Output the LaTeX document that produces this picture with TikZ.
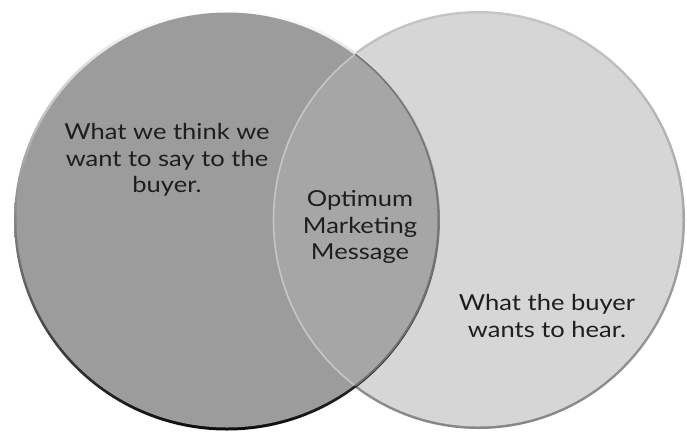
\documentclass[tikz,border=0pt]{standalone}
\usepackage{fontspec}
\setmainfont{Lato}

\definecolor{sayfill}{HTML}{9C9C9C}
\definecolor{hearfill}{HTML}{D6D6D6}
\definecolor{lensfill}{HTML}{A6A6A6}
\definecolor{textgray}{HTML}{1E1E1E}

\begin{document}
\begin{tikzpicture}[
  x = 1pt, y = -1pt,
  venntext/.style = {align = center, text = textgray, inner sep = 0pt,
    xscale = 1.16, transform shape,
    font = \fontsize{22}{26.5}\selectfont}
  ]
  \useasboundingbox (0,0) rectangle (687,432);

  % Circles
  \coordinate (C_S) at (227  , 220);  % what we say
  \coordinate (C_H) at (478.5, 220);  % what the buyer hears

  % right circle, rim darker to the bottom
  \shade [top color = gray!45, bottom color = gray!95]
    (C_H) ellipse [x radius = 206.5, y radius = 209];
  \fill [hearfill] (C_H) ellipse [x radius = 204, y radius = 206.5];

  % left circle, bevel: light on top, dark at the bottom
  \shade [top color = white, middle color = gray!80, bottom color = black!95]
    (C_S) ellipse [x radius = 213, y radius = 210.5];
  \fill [sayfill] (C_S) ellipse [x radius = 210.5, y radius = 207.5];

  % overlap
  \begin{scope}
    \clip (C_S) ellipse [x radius = 210.5, y radius = 207.5];
    \fill [lensfill] (C_H) ellipse [x radius = 205, y radius = 207.5];
    \draw [line width = 1.6pt, gray!45] (C_H) ellipse [x radius = 205, y radius = 207.5];
  \end{scope}
  \begin{scope}
    \clip (C_H) ellipse [x radius = 205, y radius = 207.5];
    \draw [line width = 1.6pt, black!55] (C_S) ellipse [x radius = 211.5, y radius = 208.5];
  \end{scope}

  % Nodes
  \node at (167, 160) [venntext, name = say]   {What we think we\\want to say to the\\buyer.};
  \node at (360, 227) [venntext, name = opt]   {Optimum\\Marketing\\Message};
  \node at (547, 316) [venntext, name = hear]  {What the buyer\\wants to hear.};

\end{tikzpicture}
\end{document}
